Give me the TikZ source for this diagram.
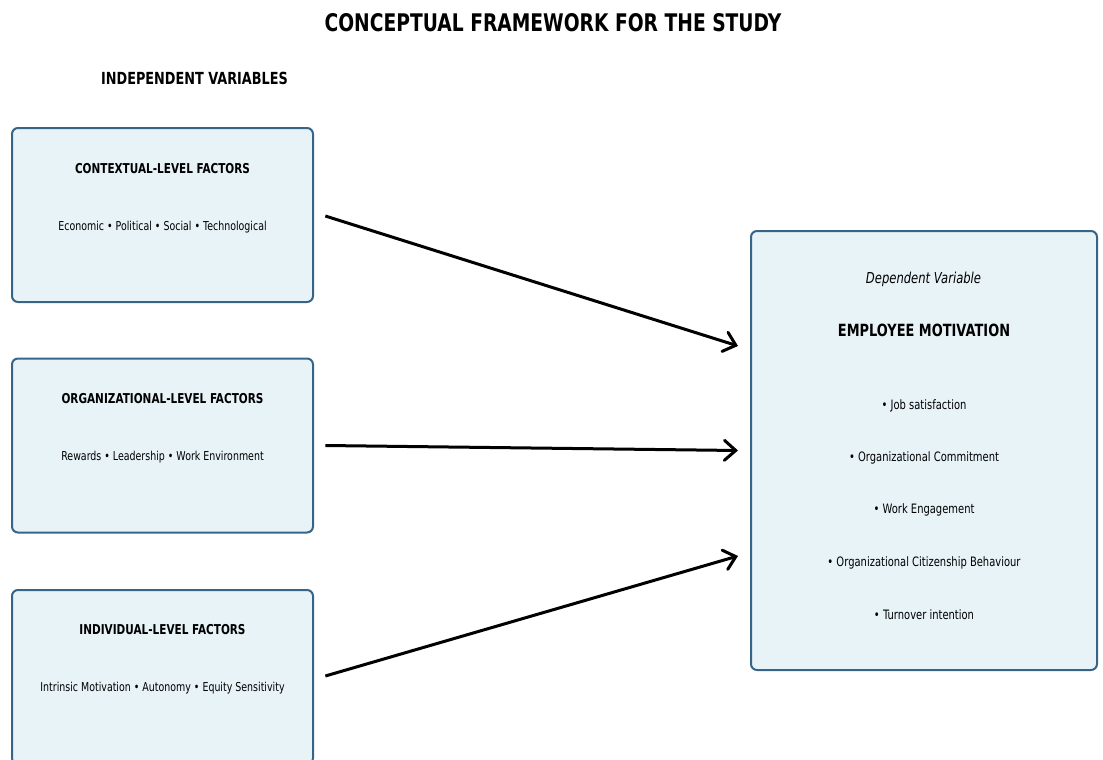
\documentclass[tikz,border=0pt]{standalone}
\usepackage{fontspec}
\setmainfont{DejaVu Sans}[FakeStretch=0.77]
\usepackage{tikz}
\usetikzlibrary{arrows.meta}
\definecolor{boxline}{RGB}{55,100,135}
\definecolor{boxfill}{RGB}{232,243,248}

\begin{document}
\begin{tikzpicture}[x=0.75pt, y=-0.75pt,
    factorbox/.style={draw=boxline, fill=boxfill, line width=1.5pt, rounded corners=4.5pt, inner sep=0pt, minimum width=225.75pt, minimum height=130.5pt},
    depbox/.style={draw=boxline, fill=boxfill, line width=1.5pt, rounded corners=4.5pt, inner sep=0pt, minimum width=259.5pt, minimum height=329.25pt},
    factorhead/.style={font=\fontsize{10.2}{12}\selectfont\bfseries},
    itemtext/.style={font=\fontsize{9.2}{11}\selectfont},
    depitem/.style={font=\fontsize{9.7}{12}\selectfont},
    arrowline/.style={line width=2.25pt, -{Straight Barb[length=8.5pt, width=15pt, line cap=round]}}]
    \useasboundingbox (0,0) rectangle (1103,760);

    %own code
    \node[font=\fontsize{18.2}{22}\selectfont\bfseries] (title) at (553,23) {CONCEPTUAL FRAMEWORK FOR THE STUDY};
    \node[font=\fontsize{12.5}{15}\selectfont\bfseries] (indep) at (194.5,78) {INDEPENDENT VARIABLES};

    \node[factorbox] (ctx) at (162.5,215) {};
    \node[factorbox] (org) at (162.5,445.5) {};
    \node[factorbox] (ind) at (162.5,677) {};
    \node[depbox] (dep) at (924,450.5) {};

    \node[factorhead] (ctxhead) at (162.5,169) {CONTEXTUAL-LEVEL FACTORS};
    \node[itemtext] (ctxitems) at (162.5,227) {Economic • Political • Social • Technological};
    \node[factorhead] (orghead) at (162.5,399) {ORGANIZATIONAL-LEVEL FACTORS};
    \node[itemtext] (orgitems) at (162.5,457) {Rewards • Leadership • Work Environment};
    \node[factorhead] (indhead) at (162.5,630) {INDIVIDUAL-LEVEL FACTORS};
    \node[itemtext] (inditems) at (162.5,688) {Intrinsic Motivation • Autonomy • Equity Sensitivity};

    \node[font=\fontsize{11.3}{13}\selectfont\itshape] (deplabel) at (923.5,279) {Dependent Variable};
    \node[font=\fontsize{12.6}{15}\selectfont\bfseries] (dephead) at (924,330) {EMPLOYEE MOTIVATION};
    \node[depitem] (dep1) at (924,405.5) {• Job satisfaction};
    \node[depitem] (dep2) at (924,457.5) {• Organizational Commitment};
    \node[depitem] (dep3) at (924,509.5) {• Work Engagement};
    \node[depitem] (dep4) at (924,562.5) {• Organizational Citizenship Behaviour};
    \node[depitem] (dep5) at (924,614.5) {• Turnover intention};

    \draw[arrowline] ([xshift=8.5pt,yshift=-0.75pt]ctx.east) -- ([xshift=-9pt,yshift=78.4pt]dep.west);
    \draw[arrowline] ([xshift=8.5pt]org.east) -- ([xshift=-9pt]dep.west);
    \draw[arrowline] ([xshift=8.5pt,yshift=0.75pt]ind.east) -- ([xshift=-9pt,yshift=-79.1pt]dep.west);

\end{tikzpicture}
\end{document}
